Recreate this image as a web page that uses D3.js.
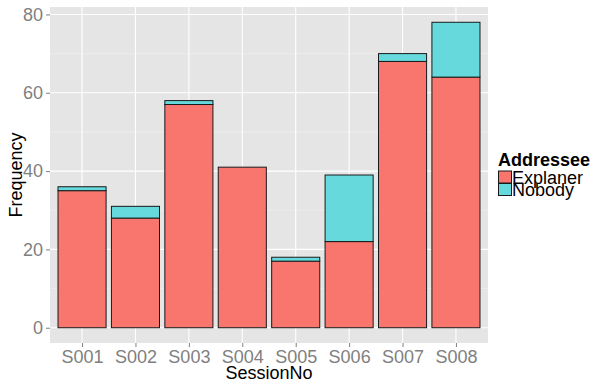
<!DOCTYPE html>
<html><head><meta charset="utf-8">
<script src="https://cdn.jsdelivr.net/npm/d3@7"></script>
<style>body{margin:0;background:#fff}svg{display:block;font-family:Arial,"Liberation Sans",sans-serif}</style>
</head><body>
<svg id="c" width="595" height="383"></svg>
<script>
const sessions = ["S001","S002","S003","S004","S005","S006","S007","S008"];
const explaner = [35,28,57,41,17,22,68,64];
const nobody = [1,3,1,0,1,17,2,14];
const seriesNames = ["Explaner","Nobody"];
const colors = ["#F8766D","#66D9DC"];
const yTicks = [0,20,40,60,80];
const yMinor = [10,30,50,70];

const svg = d3.select("#c");
const L=50,R=488,T=7,B=343;
const rows = sessions.map((s,i)=>({s, Explaner:explaner[i], Nobody:nobody[i]}));
const stacked = d3.stack().keys(seriesNames)(rows);
const maxTot = d3.max(rows,d=>d.Explaner+d.Nobody);
const ext = maxTot*0.05;
const y = d3.scaleLinear().domain([-ext,maxTot+ext]).range([B,T]);
const n = sessions.length;
const unit = (R-L)/(n-1+1.2);
const x = d3.scalePoint().domain(sessions).range([L+0.6*unit,R-0.6*unit]);
const bw = 0.9*unit;

svg.append("rect").attr("x",L).attr("y",T).attr("width",R-L).attr("height",B-T).attr("fill","#E5E5E5");
svg.selectAll(".mi").data(yMinor).enter().append("line").attr("x1",L).attr("x2",R)
  .attr("y1",d=>y(d)).attr("y2",d=>y(d)).attr("stroke","#F2F2F2").attr("stroke-width",0.6);
svg.selectAll(".ma").data(yTicks).enter().append("line").attr("x1",L).attr("x2",R)
  .attr("y1",d=>y(d)).attr("y2",d=>y(d)).attr("stroke","#fff").attr("stroke-width",1.1);
svg.selectAll(".mv").data(sessions).enter().append("line").attr("y1",T).attr("y2",B)
  .attr("x1",d=>x(d)).attr("x2",d=>x(d)).attr("stroke","#fff").attr("stroke-width",1.1);

stacked.forEach((layer,li)=>{
  svg.append("g").selectAll("rect").data(layer.filter(d=>d[1]>d[0])).enter().append("rect")
    .attr("x",d=>x(d.data.s)-bw/2).attr("width",bw)
    .attr("y",d=>y(d[1])).attr("height",d=>y(d[0])-y(d[1]))
    .attr("fill",colors[li]).attr("stroke","#1a1a1a").attr("stroke-width",1);
});

// axes
const ya = svg.append("g").attr("transform",`translate(${L},0)`)
  .call(d3.axisLeft(y).tickValues(yTicks).tickSize(4).tickPadding(3));
const xa = svg.append("g").attr("transform",`translate(0,${B})`)
  .call(d3.axisBottom(x).tickSize(4).tickPadding(2));
[ya,xa].forEach(a=>{
  a.select(".domain").remove();
  a.selectAll(".tick line").attr("stroke","#7f7f7f");
  a.selectAll("text").attr("fill","#7f7f7f").attr("font-size","18px").attr("font-family","Arial,'Liberation Sans',sans-serif");
});
xa.selectAll("text").attr("dy","0.75em");

svg.append("text").attr("x",(L+R)/2).attr("y",379).attr("text-anchor","middle")
  .attr("font-size","18px").attr("fill","#000").text("SessionNo");
svg.append("text").attr("transform",`translate(22,${(T+B)/2}) rotate(-90)`).attr("text-anchor","middle")
  .attr("font-size","18px").attr("fill","#000").text("Frequency");

// legend
const lg = svg.append("g").attr("transform","translate(498,0)");
lg.append("text").attr("x",0).attr("y",166).attr("font-size","18px").attr("font-weight","bold").text("Addressee");
seriesNames.forEach((nm,i)=>{
  lg.append("rect").attr("x",0.5).attr("y",171+i*12.5).attr("width",13).attr("height",12)
    .attr("fill",colors[i]).attr("stroke","#1a1a1a").attr("stroke-width",1);
  lg.append("text").attr("x",14).attr("y",183.5+i*12.5).attr("font-size","18px").text(nm);
});
</script>
</body></html>
